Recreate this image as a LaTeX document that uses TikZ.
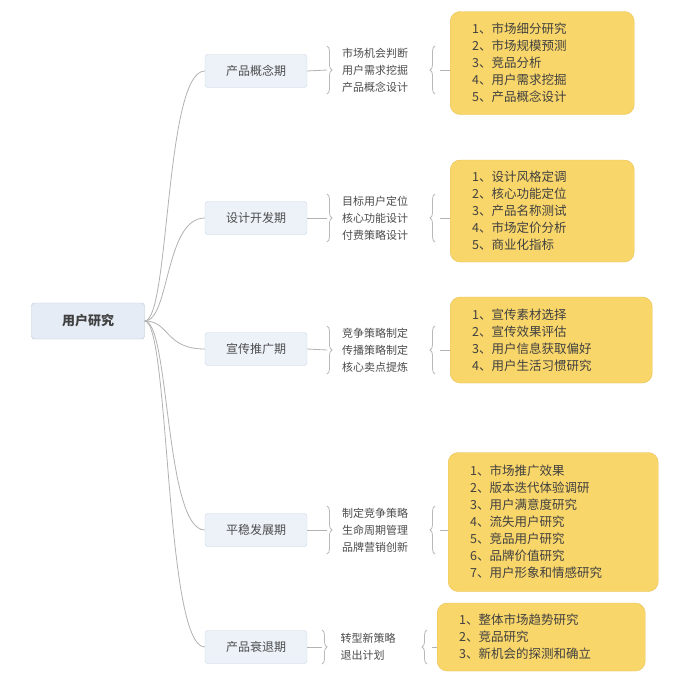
\documentclass[tikz,border=0pt]{standalone}
\usepackage{fontspec}
\newfontfamily\cjk{Noto Sans CJK SC}
\usetikzlibrary{decorations.pathreplacing,calc}
\definecolor{ybox}{HTML}{F9D66A}
\definecolor{yedge}{HTML}{E8C050}
\definecolor{bbox}{HTML}{E6ECF6}
\definecolor{bedge}{HTML}{B8C4D8}
\tikzset{
 root/.style={draw=bedge,fill=bbox,rounded corners=3pt,minimum width=113pt,minimum height=36pt,font=\cjk\fontsize{13}{15}\selectfont\bfseries,text=black!75},
 branch/.style={draw=bedge!70,fill=bbox!70,rounded corners=3pt,minimum width=102pt,minimum height=33pt,font=\cjk\fontsize{12}{14}\selectfont,text=black!70},
 mid/.style={align=left,font=\cjk\fontsize{11}{17}\selectfont,text=black!70},
 ylist/.style={draw=yedge,fill=ybox,rounded corners=10pt,align=left,font=\cjk\fontsize{12.5}{17}\selectfont,text=black!75,inner xsep=22pt,anchor=west},
 link/.style={draw=gray!60,line width=0.8pt},
 brc/.style={draw=gray!55,line width=0.8pt,decorate,decoration={brace,amplitude=5pt}}
}
\begin{document}
\begin{tikzpicture}[x=1pt,y=-1pt]
\useasboundingbox (0,0) rectangle (692,675);
\fill[white] (0,0) rectangle (692,675);
\node[root] (r) at (88,321) {用户研究};
\node[branch] (b1) at (256,71) {产品概念期};
\node[branch] (b2) at (256,218) {设计开发期};
\node[branch] (b3) at (256,349) {宣传推广期};
\node[branch] (b4) at (256,530) {平稳发展期};
\node[branch] (b5) at (256,647) {产品衰退期};
\foreach \b in {b1,b2,b3,b4,b5}{
 \draw[link] (r.east) .. controls ($(r.east)+(25,0)$) and ($(\b.west)+(-40,0)$) .. (\b.west);
}
% mids
\node[mid] (m1) at (375,70) {市场机会判断\\用户需求挖掘\\产品概念设计};
\node[mid] (m2) at (375,218) {目标用户定位\\核心功能设计\\付费策略设计};
\node[mid] (m3) at (375,350) {竞争策略制定\\传播策略制定\\核心卖点提炼};
\node[mid] (m4) at (375,530) {制定竞争策略\\生命周期管理\\品牌营销创新};
\node[mid] (m5) at (368,647) {转型新策略\\退出计划};
% yellow lists
\node[ylist,text width=140pt,minimum height=103pt] (y1) at (450,63) {1、市场细分研究\\2、市场规模预测\\3、竞品分析\\4、用户需求挖掘\\5、产品概念设计};
\node[ylist,text width=140pt,minimum height=102pt] (y2) at (450,211) {1、设计风格定调\\2、核心功能定位\\3、产品名称测试\\4、市场定价分析\\5、商业化指标};
\node[ylist,text width=158pt,minimum height=86pt] (y3) at (450,340) {1、宣传素材选择\\2、宣传效果评估\\3、用户信息获取偏好\\4、用户生活习惯研究};
\node[ylist,text width=166pt,minimum height=139pt] (y4) at (448,522) {1、市场推广效果\\2、版本迭代体验调研\\3、用户满意度研究\\4、流失用户研究\\5、竞品用户研究\\6、品牌价值研究\\7、用户形象和情感研究};
\node[ylist,text width=164pt,minimum height=68pt] (y5) at (437,637) {1、整体市场趋势研究\\2、竞品研究\\3、新机会的探测和确立};
% braces and links
\foreach \i/\h/\xl/\xr in {1/24/327/435,2/24/327/435,3/24/327/435,4/24/327/435,5/17/322/427}{
 \coordinate (bl\i) at (\xl,0);
 \draw[link] (b\i.east) -- (m\i.west -| bl\i);
 \draw[brc] ($(m\i.west -| bl\i)+(0,-\h)$) -- ($(m\i.west -| bl\i)+(0,\h)$);
 \coordinate (brx\i) at (\xr,0);
 \draw[brc] ($(m\i.west -| brx\i)+(0,\h)$) -- ($(m\i.west -| brx\i)+(0,-\h)$);
 \draw[link] ($(m\i.west -| brx\i)+(5,0)$) -- (y\i.west |- m\i.west);
}
\end{tikzpicture}
\end{document}
